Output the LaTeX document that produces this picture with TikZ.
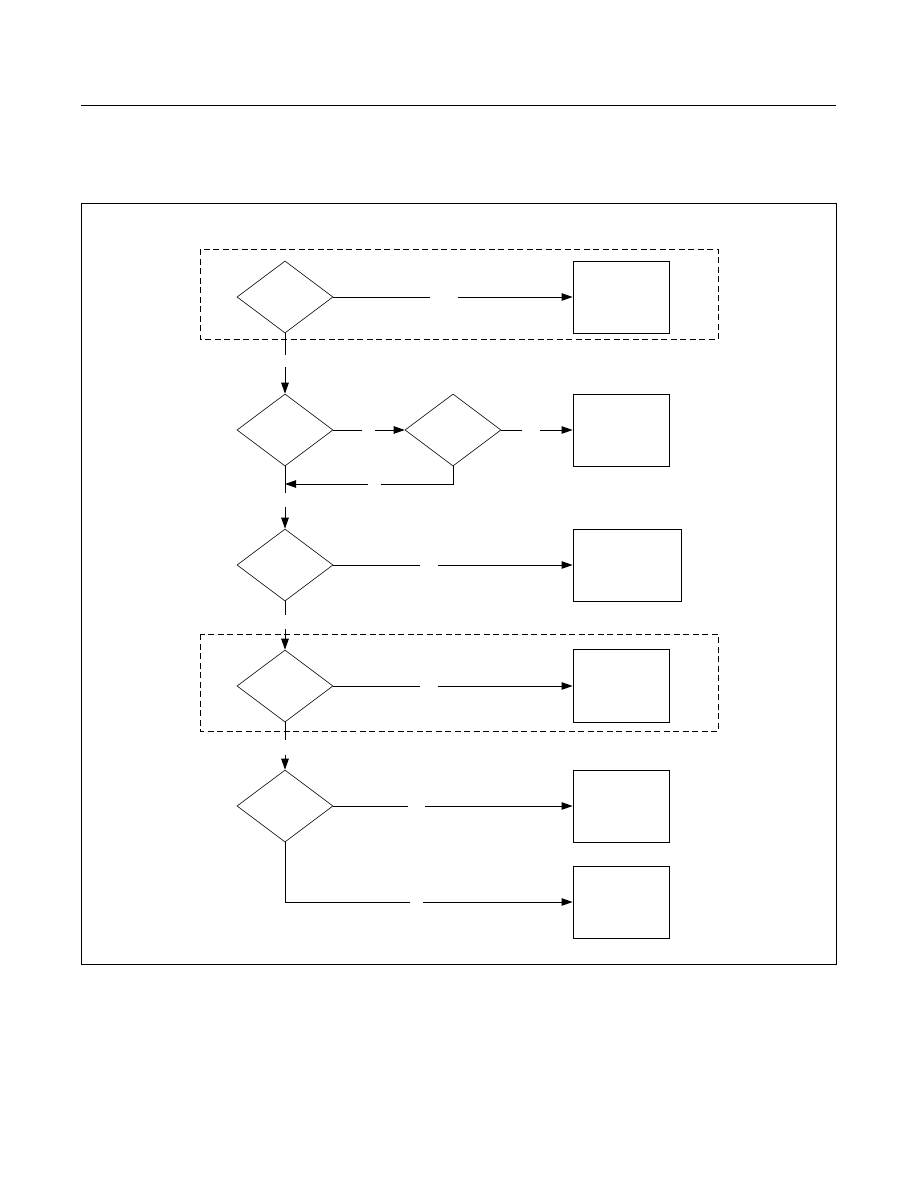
\documentclass[tikz,border=0pt]{standalone}
\usetikzlibrary{shapes.geometric,arrows.meta}
\begin{document}
\begin{tikzpicture}[x=1pt,y=-1pt,
  dec/.style={draw,diamond,inner sep=0pt,minimum width=96pt,minimum height=72pt,line width=0.6pt},
  proc/.style={draw,rectangle,inner sep=0pt,line width=0.9pt},
  conn/.style={line width=0.9pt},
  arr/.style={line width=0.9pt,-{Triangle[length=11pt,width=7.5pt]}},
  group/.style={draw,dashed,dash pattern=on 6pt off 3.5pt,line width=0.8pt}]
\useasboundingbox (0,0) rectangle (918,1188);
% top rule and frame
\draw[line width=0.8pt] (81,105) -- (836,105);
\draw[line width=1pt] (81,203) rectangle (836,964);
% dashed groups
\draw[group] (200,249) rectangle (718,339);
\draw[group] (200,634) rectangle (718,731);
% decisions
\node[dec] (d1) at (285,297) {};
\node[dec] (d2) at (285,430) {};
\node[dec] (d3) at (453,430) {};
\node[dec] (d4) at (285,565) {};
\node[dec] (d5) at (285,686) {};
\node[dec] (d6) at (285,806) {};
% boxes
\node[proc,minimum width=96pt,minimum height=72pt] (b1) at (621,297) {};
\node[proc,minimum width=96pt,minimum height=72pt] (b2) at (621,430) {};
\node[proc,minimum width=108pt,minimum height=72pt] (b3) at (627,565) {};
\node[proc,minimum width=96pt,minimum height=73pt] (b4) at (621,685.5) {};
\node[proc,minimum width=96pt,minimum height=72pt] (b5) at (621,806) {};
\node[proc,minimum width=96pt,minimum height=72pt] (b6) at (621,902) {};
% gap coordinates
\coordinate (g1a) at (430,297); \coordinate (g1b) at (458,297);
\coordinate (g2a) at (362,430); \coordinate (g2b) at (375,430);
\coordinate (g3a) at (522,430); \coordinate (g3b) at (540,430);
\coordinate (f1) at (453,484);
\coordinate (g4a) at (381,484); \coordinate (g4b) at (368,484);
\coordinate (f2) at (285,484);
\coordinate (g5a) at (420,565); \coordinate (g5b) at (438,565);
\coordinate (g6a) at (420,686); \coordinate (g6b) at (438,686);
\coordinate (g7a) at (408,806); \coordinate (g7b) at (425,806);
\coordinate (c8) at (285,902);
\coordinate (g8a) at (410,902); \coordinate (g8b) at (423,902);
\coordinate (v1a) at (285,355); \coordinate (v1b) at (285,367);
\coordinate (v2a) at (285,493); \coordinate (v2b) at (285,507);
\coordinate (v3a) at (285,615); \coordinate (v3b) at (285,629);
\coordinate (v4a) at (285,740); \coordinate (v4b) at (285,755);
% horizontal connectors
\draw[conn] (d1.east) -- (g1a); \draw[arr] (g1b) -- (b1.west);
\draw[conn] (d2.east) -- (g2a); \draw[arr] (g2b) -- (d3.west);
\draw[conn] (d3.east) -- (g3a); \draw[arr] (g3b) -- (b2.west);
\draw[conn] (d3.south) -- (f1) -- (g4a); \draw[arr] (g4b) -- (f2);
\draw[conn] (d4.east) -- (g5a); \draw[arr] (g5b) -- (b3.west);
\draw[conn] (d5.east) -- (g6a); \draw[arr] (g6b) -- (b4.west |- g6b);
\draw[conn] (d6.east) -- (g7a); \draw[arr] (g7b) -- (b5.west);
\draw[conn] (d6.south) -- (c8) -- (g8a); \draw[arr] (g8b) -- (b6.west);
% vertical connectors
\draw[conn] (d1.south) -- (v1a); \draw[arr] (v1b) -- (d2.north);
\draw[conn] (d2.south) -- (v2a); \draw[arr] (v2b) -- (d4.north);
\draw[conn] (d4.south) -- (v3a); \draw[arr] (v3b) -- (d5.north);
\draw[conn] (d5.south) -- (v4a); \draw[arr] (v4b) -- (d6.north);
\end{tikzpicture}
\end{document}
